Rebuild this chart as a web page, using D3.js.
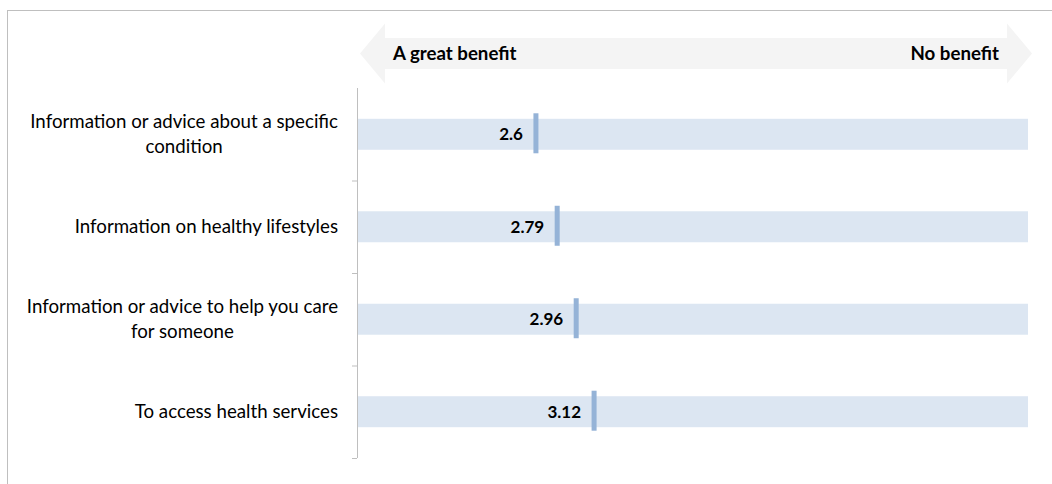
<!DOCTYPE html>
<html><head><meta charset="utf-8">
<script src="https://cdn.jsdelivr.net/npm/d3@7/dist/d3.min.js"></script>
<style>body{margin:0;background:#fff}svg{display:block}</style>
</head><body><svg id="c" width="1052" height="484"></svg>
<script>
const categories = [
  ["Information or advice about a specific", "condition"],
  ["Information on healthy lifestyles"],
  ["Information or advice to help you care", "for someone"],
  ["To access health services"]
];
const values = [2.6, 2.79, 2.96, 3.12];
const scaleMin = 1, scaleMax = 7;
const endLabels = ["A great benefit", "No benefit"];

const svg = d3.select("#c");
const font = "Lato, 'Open Sans', sans-serif";
svg.append("rect").attr("x",7.5).attr("y",10.5).attr("width",1060).attr("height",490)
  .attr("fill","#fff").attr("stroke","#bfbfbf");

const x = d3.scaleLinear().domain([scaleMin, scaleMax]).range([357, 1028]);
const y = d3.scaleBand().domain(d3.range(categories.length)).range([88, 458]).paddingInner(0.665).paddingOuter(0.333);

// arrow
const x0 = x.range()[0], x1 = x.range()[1];
const ay = 53.5, bh = 15.5, hh = 30, hw = 25;
const lt = x0 + 3, rt = x1 + 4;
svg.append("path").attr("fill","#f4f4f4")
  .attr("d", `M${lt},${ay} L${lt+hw},${ay-hh} L${lt+hw},${ay-bh} L${rt-hw},${ay-bh} L${rt-hw},${ay-hh} L${rt},${ay} L${rt-hw},${ay+hh} L${rt-hw},${ay+bh} L${lt+hw},${ay+bh} L${lt+hw},${ay+hh} Z`);
svg.append("text").attr("x", lt+33).attr("y", 59.5).attr("font-family",font).attr("font-weight","bold")
  .attr("font-size",18.7).attr("fill","#000").text(endLabels[0]);
svg.append("text").attr("x", rt-33).attr("y", 59.5).attr("text-anchor","end").attr("font-family",font).attr("font-weight","bold")
  .attr("font-size",18.7).attr("fill","#000").text(endLabels[1]);

// bars
svg.selectAll("rect.bar").data(values).join("rect").attr("class","bar")
  .attr("x", x(scaleMin)).attr("width", x(scaleMax)-x(scaleMin))
  .attr("y", (d,i)=>y(i)).attr("height", y.bandwidth()).attr("fill","#dce6f2");

// axis
const yAxisScale = d3.scaleLinear().domain([0, categories.length]).range([88, 458]);
const axis = svg.append("g").attr("transform",`translate(${x0},0)`)
  .call(d3.axisLeft(yAxisScale).tickValues([1,2,3,4]).tickSize(5).tickFormat(""));
axis.select(".domain").attr("stroke","#bfbfbf").attr("d", `M0.5,88V458`);
axis.selectAll(".tick line").attr("stroke","#bfbfbf");

// markers
const cy = i => y(i) + y.bandwidth()/2;
svg.selectAll("rect.mk").data(values).join("rect").attr("class","mk")
  .attr("x", d=>x(d)-2.5).attr("width",5)
  .attr("y", (d,i)=>cy(i)-21).attr("height",40).attr("fill","#95b3d7");
svg.selectAll("text.val").data(values).join("text").attr("class","val")
  .attr("x", d=>x(d)-13).attr("y",(d,i)=>cy(i)+6).attr("text-anchor","end")
  .attr("font-family",font).attr("font-weight","bold").attr("font-size",17).attr("fill","#000")
  .text(d=>d);

// category labels: block right-aligned, lines centered in block
const rightEdge = 338;
const lab = svg.selectAll("text.cat").data(categories).join("text").attr("class","cat")
  .attr("font-family",font).attr("font-size",18.7).attr("fill","#000").attr("text-anchor","middle");
lab.each(function(lines,i){
  const t = d3.select(this);
  const n = lines.length, lh = 25;
  const spans = lines.map((s,k)=> t.append("tspan").attr("y", cy(i) + 6.5 + (k-(n-1)/2)*lh).text(s));
  const w = d3.max(spans, s=>s.node().getComputedTextLength());
  spans.forEach(s=>s.attr("x", rightEdge - w/2));
});
</script></body></html>
